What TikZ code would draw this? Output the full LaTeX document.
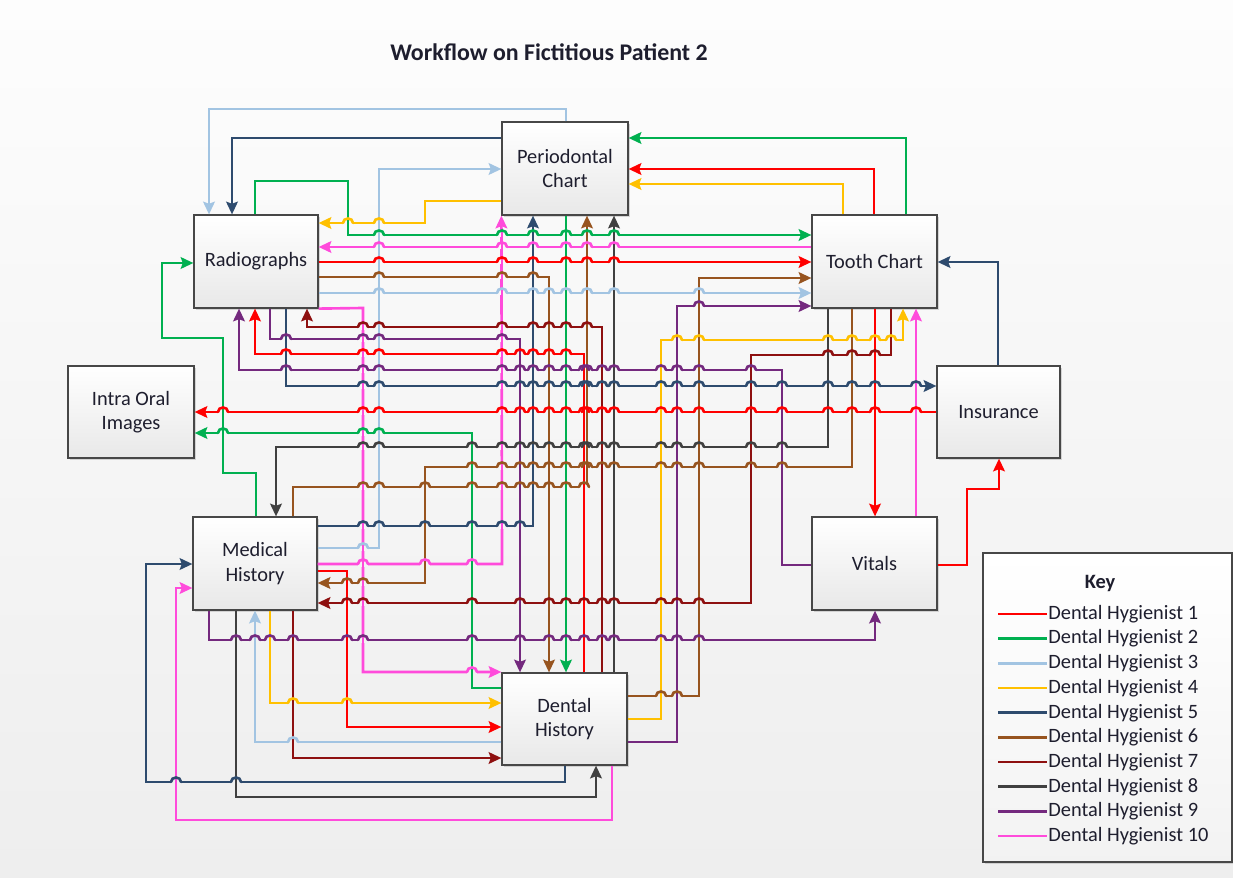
\documentclass[tikz,border=0pt]{standalone}
\usepackage{fontspec}
\setmainfont{Carlito}
\usetikzlibrary{arrows.meta,shadows}
\definecolor{c1}{HTML}{FF0000}
\definecolor{c2}{HTML}{00B050}
\definecolor{c3}{HTML}{A2C4E2}
\definecolor{c4}{HTML}{FFC000}
\definecolor{c5}{HTML}{2E4B6E}
\definecolor{c6}{HTML}{97541F}
\definecolor{c7}{HTML}{8E1010}
\definecolor{c8}{HTML}{404040}
\definecolor{c9}{HTML}{74297E}
\definecolor{c10}{HTML}{FF4BDB}
\definecolor{bgtop}{HTML}{FDFDFD}
\definecolor{bgbot}{HTML}{EEEEEE}
\definecolor{txt}{HTML}{1E1E2E}
\pgfdeclarelayer{hopbg}\pgfdeclarelayer{hopv}\pgfdeclarelayer{hoparc}
\pgfsetlayers{main,hopbg,hopv,hoparc}
\tikzset{
  box/.style={draw=black!72, line width=0.7pt, top color=white, bottom color=black!9,
    text=txt, font=\fontsize{11.6}{13.8}\selectfont, align=center, inner sep=0pt,
    drop shadow={shadow xshift=1.3pt, shadow yshift=-1.3pt, fill=black!30, opacity=0.5}},
  conn/.style={line width=1.5pt},
  arrw/.style={-{Stealth[length=7.2pt,width=6.6pt,inset=1.2pt]}},
  keyt/.style={text=txt, font=\fontsize{11.6}{13.8}\selectfont, inner sep=0pt, anchor=west}
}
\newcommand\bx[6]{\node[box, minimum width={(#4-#2)*0.02cm}, minimum height={(#5-#3)*0.02cm}] (#1) at ({(#2+#4)/2},{(#3+#5)/2}) {#6};}
\begin{document}
\begin{tikzpicture}[x=0.02cm,y=-0.02cm]
\useasboundingbox (0,0) rectangle (1233,878);
\fill[top color=bgtop, bottom color=bgbot] (0,0) rectangle (1233,878);
\node[text=txt, font=\bfseries\fontsize{13.6}{16}\selectfont] (title) at (549,52) {Workflow on Fictitious Patient 2};
% boxes
\bx{per}{502}{122}{628}{215}{Periodontal\\Chart}
\bx{rad}{194}{215}{318}{308}{Radiographs}
\bx{tc}{812}{215}{937}{308}{Tooth Chart}
\bx{io}{68}{366}{194}{458}{Intra Oral\\Images}
\bx{ins}{937}{366}{1060}{458}{Insurance}
\bx{mh}{193}{517}{317}{610}{Medical\\History}
\bx{vit}{812}{517}{937}{610}{Vitals}
\bx{dh}{502}{673}{627}{765}{Dental\\History}
% key
\node[box, minimum width={249*0.02cm}, minimum height={309*0.02cm}, top color=white, bottom color=black!5] (key) at (1107.5,707.5) {};
\node[text=txt, font=\bfseries\fontsize{11.6}{13.8}\selectfont] (keytitle) at (1100,583) {Key};
\foreach \i/\cc in {1/c1,2/c2,3/c3,4/c4,5/c5,6/c6,7/c7,8/c8,9/c9,10/c10}{
  \pgfmathsetmacro\yy{614+24.67*(\i-1)}
  \draw[conn,\cc] (998,\yy) -- (1047,\yy) node[keyt] (k\i) {Dental Hygienist \i};
}
% Dental Hygienist 1 (red)
\draw[conn,c1,arrw] (ins.west |- 0,412) -- (io.east |- 0,412);
\draw[conn,c1,arrw] (tc.north -| 874,0) -- (874,169) -- (per.east |- 0,169);
\draw[conn,c1,arrw] (rad.east |- 0,262) -- (tc.west |- 0,262);
\draw[conn,c1,arrw] (dh.north -| 584,0) -- (584,354) -- (255,354) -- (rad.south -| 255,0);
\draw[conn,c1,arrw] (mh.east |- 0,571) -- (347,571) -- (347,727) -- (dh.west |- 0,727);
\draw[conn,c1,arrw] (tc.south -| 875,0) -- (vit.north -| 875,0);
\draw[conn,c1,arrw] (vit.east |- 0,565) -- (967,565) -- (967,489) -- (999,489) -- (ins.south -| 999,0);
% Dental Hygienist 2 (green)
\draw[conn,c2,arrw] (tc.north -| 906,0) -- (906,138) -- (per.east |- 0,138);
\draw[conn,c2,arrw] (rad.north -| 255,0) -- (255,181) -- (348,181) -- (348,235) -- (tc.west |- 0,235);
\draw[conn,c2,arrw] (per.south -| 566,0) -- (dh.north -| 566,0);
\draw[conn,c2,arrw] (dh.west |- 0,688) -- (472,688) -- (472,433) -- (io.east |- 0,433);
\draw[conn,c2,arrw] (mh.north -| 256,0) -- (256,473) -- (223,473) -- (223,338) -- (162,338) -- (162,263) -- (rad.west |- 0,263);
% Dental Hygienist 3 (light blue)
\draw[conn,c3,arrw] (per.north -| 566,0) -- (566,109) -- (209,109) -- (rad.north -| 209,0);
\draw[conn,c3,arrw] (mh.east |- 0,548) -- (379,548) -- (379,169) -- (per.west |- 0,169);
\draw[conn,c3,arrw] (rad.east |- 0,293) -- (tc.west |- 0,293);
\draw[conn,c3,arrw] (dh.west |- 0,742) -- (255,742) -- (mh.south -| 255,0);
% Dental Hygienist 4 (yellow)
\draw[conn,c4,arrw] (per.west |- 0,201) -- (425,201) -- (425,223) -- (rad.east |- 0,223);
\draw[conn,c4,arrw] (tc.north -| 843,0) -- (843,184) -- (per.east |- 0,184);
\draw[conn,c4,arrw] (dh.east |- 0,719) -- (661,719) -- (661,340) -- (903,340) -- (tc.south -| 903,0);
\draw[conn,c4,arrw] (mh.south -| 270,0) -- (270,703) -- (dh.west |- 0,703);
% Dental Hygienist 5 (dark blue)
\draw[conn,c5,arrw] (per.west |- 0,138) -- (232,138) -- (rad.north -| 232,0);
\draw[conn,c5,arrw] (rad.south -| 286,0) -- (286,386) -- (ins.west |- 0,386);
\draw[conn,c5,arrw] (mh.east |- 0,526) -- (533,526) -- (per.south -| 533,0);
\draw[conn,c5,arrw] (ins.north -| 998,0) -- (998,262) -- (tc.east |- 0,262);
\draw[conn,c5,arrw] (dh.south -| 565,0) -- (565,782) -- (146,782) -- (146,564) -- (mh.west |- 0,564);
% Dental Hygienist 6 (brown)
\draw[conn,c6,arrw] (rad.east |- 0,277) -- (549,277) -- (dh.north -| 549,0);
\draw[conn,c6,arrw] (mh.north -| 293,0) -- (293,487) -- (587,487) -- (per.south -| 587,0);
\draw[conn,c6,arrw] (tc.south -| 852,0) -- (852,467) -- (425,467) -- (425,583) -- (mh.east |- 0,583);
\draw[conn,c6,arrw] (dh.east |- 0,696) -- (699,696) -- (699,278) -- (tc.west |- 0,278);
% Dental Hygienist 7 (dark red)
\draw[conn,c7,arrw] (dh.north -| 602,0) -- (602,327) -- (307,327) -- (rad.south -| 307,0);
\draw[conn,c7,arrw] (tc.south -| 891,0) -- (891,355) -- (751,355) -- (751,603) -- (mh.east |- 0,603);
\draw[conn,c7,arrw] (mh.south -| 293,0) -- (293,758) -- (dh.west |- 0,758);
% Dental Hygienist 8 (dark grey)
\draw[conn,c8,arrw] (tc.south -| 828,0) -- (828,447) -- (276,447) -- (mh.north -| 276,0);
\draw[conn,c8,arrw] (dh.north -| 614,0) -- (per.south -| 614,0);
\draw[conn,c8,arrw] (mh.south -| 236,0) -- (236,797) -- (596,797) -- (dh.south -| 596,0);
% Dental Hygienist 9 (purple)
\draw[conn,c9,arrw] (rad.south -| 270,0) -- (270,339) -- (520,339) -- (dh.north -| 520,0);
\draw[conn,c9,arrw] (vit.west |- 0,565) -- (782,565) -- (782,370) -- (239,370) -- (rad.south -| 239,0);
\draw[conn,c9,arrw] (dh.east |- 0,742) -- (677,742) -- (677,306) -- (tc.west |- 0,306);
\draw[conn,c9,arrw] (mh.south -| 209,0) -- (209,640) -- (875,640) -- (vit.south -| 875,0);
% Dental Hygienist 10 (pink)
\draw[conn,c10,arrw] (tc.west |- 0,247) -- (rad.east |- 0,247);
\draw[conn,c10,arrw] (rad.south east) -- (363,308) -- (363,672) -- (dh.west |- 0,672);
\draw[conn,c10,arrw] (mh.east |- 0,564) -- (502,564) -- (per.south west);
\draw[conn,c10,arrw] (vit.north -| 916,0) -- (tc.south -| 916,0);
\draw[conn,c10,arrw] (dh.south -| 612,0) -- (612,820) -- (176,820) -- (176,588) -- (mh.west |- 0,588);
% line hops: horizontal segments jump over vertical ones
\foreach \hc/\hy/\ha/\hb in {
c1/412/194/937, c1/169/628/874, c1/262/318/812, c1/354/255/584, c1/571/317/347,
c1/727/347/502, c1/565/937/967, c1/489/967/999,
c2/138/628/906, c2/181/255/348, c2/235/348/812, c2/688/472/502, c2/433/194/472,
c2/473/223/256, c2/338/162/223, c2/263/162/194,
c3/109/209/566, c3/548/317/379, c3/169/379/502, c3/293/318/812, c3/742/255/502,
c4/201/425/502, c4/223/318/425, c4/184/628/843, c4/719/627/661, c4/340/661/903, c4/703/270/502,
c5/138/232/502, c5/386/286/937, c5/526/317/533, c5/262/937/998, c5/782/146/565, c5/564/146/193,
c6/277/318/549, c6/487/293/587, c6/467/425/852, c6/583/317/425, c6/696/627/699, c6/278/699/812,
c7/327/307/602, c7/355/751/891, c7/603/317/751, c7/758/293/502,
c8/447/276/828, c8/797/236/596,
c9/339/270/520, c9/565/782/812, c9/370/239/782, c9/742/627/677, c9/306/677/812, c9/640/209/875,
c10/247/318/812, c10/308/318/363, c10/672/363/502, c10/564/317/502, c10/820/176/612, c10/588/176/193}{
 \foreach \vc/\vx/\va/\vb in {
 c1/874/169/215, c1/584/354/673, c1/255/308/354, c1/347/571/727, c1/875/308/517, c1/967/489/565, c1/999/458/489,
 c2/906/138/215, c2/255/181/215, c2/348/181/235, c2/566/215/673, c2/472/433/688, c2/256/473/517, c2/223/338/473, c2/162/263/338,
 c3/566/109/122, c3/209/109/215, c3/379/169/548, c3/255/610/742,
 c4/425/201/223, c4/843/184/215, c4/661/340/719, c4/903/308/340, c4/270/610/703,
 c5/232/138/215, c5/286/308/386, c5/533/215/526, c5/998/262/366, c5/565/765/782, c5/146/564/782,
 c6/549/277/673, c6/293/487/517, c6/587/215/487, c6/852/308/467, c6/425/467/583, c6/699/278/696,
 c7/602/327/673, c7/307/308/327, c7/891/308/355, c7/751/355/603, c7/293/610/758,
 c8/828/308/447, c8/276/447/517, c8/614/215/673, c8/236/610/797, c8/596/765/797,
 c9/270/308/339, c9/520/339/673, c9/782/370/565, c9/239/308/370, c9/677/306/742, c9/209/610/640, c9/875/610/640,
 c10/363/308/672, c10/502/215/564, c10/916/308/517, c10/612/765/820, c10/176/588/820}{
  \pgfmathtruncatemacro\ok{and(and(\vx>min(\ha,\hb)+1,\vx<max(\ha,\hb)-1),and(\hy>min(\va,\vb)+1,\hy<max(\va,\vb)-1))}
  \ifnum\ok=1
    \pgfmathtruncatemacro\pp{\hy/8.78}
    \colorlet{hopc}{bgbot!\pp!bgtop}
    \pgfmathsetmacro\ylo{max(min(\va,\vb),\hy-7)}
    \pgfmathsetmacro\yhi{min(max(\va,\vb),\hy+7)}
    \begin{pgfonlayer}{hopbg}
      \fill[hopc] (\vx-5.3,\hy-2.5) rectangle (\vx+5.3,\hy+2.5);
    \end{pgfonlayer}
    \begin{pgfonlayer}{hopv}
      \draw[conn,\vc] (\vx,\ylo) -- (\vx,\yhi);
    \end{pgfonlayer}
    \begin{pgfonlayer}{hoparc}
      \draw[conn,\hc,line cap=round] (\vx-5,\hy) .. controls (\vx-5,\hy-6) and (\vx+5,\hy-6) .. (\vx+5,\hy);
    \end{pgfonlayer}
  \fi
 }
}
\end{tikzpicture}
\end{document}
